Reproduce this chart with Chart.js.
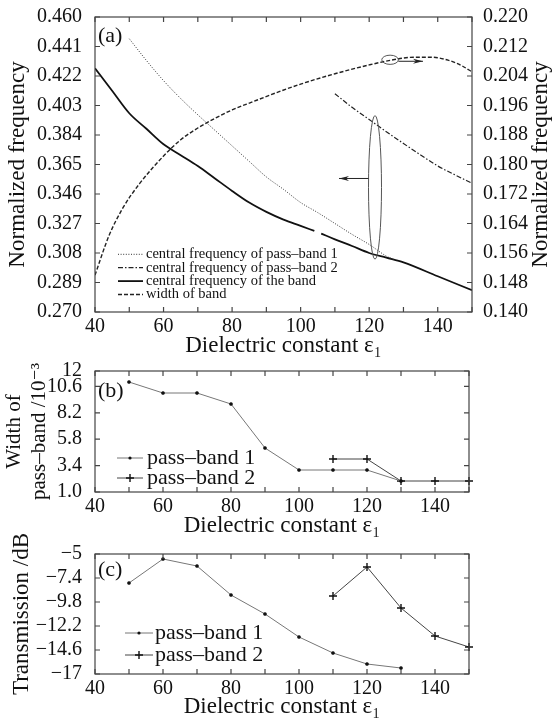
<!DOCTYPE html>
<html>
<head>
<meta charset="utf-8">
<script src="https://cdn.jsdelivr.net/npm/chart.js@4.4.1/dist/chart.umd.min.js"></script>
<style>
  html, body { margin: 0; padding: 0; background: #fff; }
  #wrap { position: relative; width: 554px; height: 721px; }
  canvas { position: absolute; left: 0; }
</style>
</head>
<body>
<div id="wrap">
  <canvas id="chartA" style="top:0px" width="554" height="360"></canvas>
  <canvas id="chartB" style="top:340px" width="554" height="200"></canvas>
  <canvas id="chartC" style="top:520px" width="554" height="201"></canvas>
</div>
<script>
// ---------- data ----------
const xTickValues = [40, 50, 60, 70, 80, 90, 100, 110, 120, 130, 140, 150];
const xTickLabels = ['40', '', '60', '', '80', '', '100', '', '120', '', '140', ''];

// (a) left axis ticks / right axis ticks
const freqTicks = [0.270, 0.289, 0.308, 0.327, 0.346, 0.365, 0.384, 0.403, 0.422, 0.441, 0.460];
const freqTickLabels = ['0.270', '0.289', '0.308', '0.327', '0.346', '0.365', '0.384', '0.403', '0.422', '0.441', '0.460'];
const freq2Ticks = [0.140, 0.148, 0.156, 0.164, 0.172, 0.180, 0.188, 0.196, 0.204, 0.212, 0.220];
const freq2TickLabels = ['0.140', '0.148', '0.156', '0.164', '0.172', '0.180', '0.188', '0.196', '0.204', '0.212', '0.220'];

// (a) central frequency of pass-band 1 (left axis)
const pb1FreqX = [50, 55, 60, 65, 70, 75, 80, 85, 90, 95, 100, 105, 110, 115, 120, 125, 127.5];
const pb1Freq = [0.446, 0.432, 0.419, 0.4075, 0.397, 0.387, 0.377, 0.367, 0.357, 0.349, 0.3405, 0.334, 0.327, 0.320, 0.3135, 0.306, 0.3035];

// (a) central frequency of pass-band 2 (right axis)
const pb2FreqX = [110, 115, 120, 125, 130, 135, 140, 145, 150];
const pb2Freq = [0.1992, 0.1955, 0.1922, 0.1889, 0.1857, 0.1826, 0.1796, 0.1772, 0.1749];

// (a) central frequency of the band (left axis), small break near 105
const bandFreqX = [40, 45, 50, 55, 60, 65, 70, 75, 80, 85, 90, 95, 100, 104, 105, 106, 110, 115, 120, 125, 130, 140, 150];
const bandFreq = [0.427, 0.4125, 0.398, 0.388, 0.378, 0.371, 0.364, 0.356, 0.348, 0.3405, 0.3345, 0.3295, 0.3255, 0.3222, null, 0.3205, 0.3168, 0.3125, 0.308, 0.305, 0.302, 0.293, 0.284];

// (a) width of band (right axis)
const bandWidthX = [40, 44, 48, 53, 60, 65, 70, 75, 80, 86, 93, 100, 110, 120, 127, 133, 138, 143, 147, 150];
const bandWidth = [0.150, 0.1605, 0.168, 0.1748, 0.1823, 0.1867, 0.1899, 0.1925, 0.1948, 0.1970, 0.1995, 0.2018, 0.2046, 0.2070, 0.2084, 0.2091, 0.2091, 0.2083, 0.2068, 0.2051];

// (b) width of pass-band /10^-3
const widthTicks = [1, 3.4, 5.8, 8.2, 10.6, 12];
const widthTickLabels = ['1.0', '3.4', '5.8', '8.2', '10.6', '12'];
const widthPb1X = [50, 60, 70, 80, 90, 100, 110, 120, 130];
const widthPb1 = [11, 10, 10, 9, 5, 3, 3, 3, 2];
const widthPb2X = [110, 120, 130, 140, 150];
const widthPb2 = [4, 4, 2, 2, 2];

// (c) transmission /dB
const transTicks = [-17, -14.6, -12.2, -9.8, -7.4, -5];
const transTickLabels = ['\u221217', '\u221214.6', '\u221212.2', '\u22129.8', '\u22127.4', '\u22125'];
const transPb1X = [50, 60, 70, 80, 90, 100, 110, 120, 130];
const transPb1 = [-7.9, -5.5, -6.2, -9.1, -11.0, -13.3, -14.9, -16.0, -16.4];
const transPb2X = [110, 120, 130, 140, 150];
const transPb2 = [-9.2, -6.3, -10.4, -13.2, -14.3];

// ---------- helpers ----------
const SERIF = "'Liberation Serif', 'DejaVu Serif', serif";
const INK = '#111';
const pts = (xs, ys) => xs.map((x, i) => ({ x: x, y: ys[i] }));

function fixedTicks(values) {
    return s => { s.ticks = values.map(v => ({ value: v })); };
}

function xScale(titleSize, h) {
    return {
        type: 'linear', min: 40, max: 150,
        afterBuildTicks: fixedTicks(xTickValues),
        afterFit: s => { s.height = h; },
        grid: { display: false },
        border: { display: false },
        ticks: {
            callback: (v, i) => xTickLabels[i],
            autoSkip: false, maxRotation: 0, padding: -5,
            color: INK, font: { family: SERIF, size: 20 }
        },
        title: {
            display: true, text: 'Dielectric constant \u03b5\u2081', color: INK,
            font: { family: SERIF, size: titleSize }, padding: { top: 0, bottom: 0 }
        }
    };
}

function yScale(min, max, values, labels, pos, width, pad, title) {
    const s = {
        type: 'linear', position: pos, min: min, max: max,
        afterBuildTicks: fixedTicks(values),
        afterFit: sc => { sc.width = width; },
        grid: { display: false },
        border: { display: false },
        ticks: {
            callback: (v, i) => labels[i],
            autoSkip: false, padding: pad,
            color: INK, font: { family: SERIF, size: 20 }
        }
    };
    if (title) s.title = title;
    return s;
}

// frame + inward ticks on all four sides
const frameTicks = {
    id: 'frameTicks',
    afterDraw(chart) {
        const { ctx, chartArea: a, scales } = chart;
        ctx.save();
        ctx.strokeStyle = '#444';
        ctx.lineWidth = 1.2;
        ctx.strokeRect(a.left, a.top, a.right - a.left, a.bottom - a.top);
        ctx.beginPath();
        scales.x.ticks.forEach(t => {
            const px = scales.x.getPixelForValue(t.value);
            ctx.moveTo(px, a.bottom); ctx.lineTo(px, a.bottom - 5);
            ctx.moveTo(px, a.top); ctx.lineTo(px, a.top + 5);
        });
        scales.y.ticks.forEach(t => {
            const py = scales.y.getPixelForValue(t.value);
            ctx.moveTo(a.left, py); ctx.lineTo(a.left + 5, py);
            if (!scales.y2) { ctx.moveTo(a.right, py); ctx.lineTo(a.right - 5, py); }
        });
        if (scales.y2) {
            scales.y2.ticks.forEach(t => {
                const py = scales.y2.getPixelForValue(t.value);
                ctx.moveTo(a.right, py); ctx.lineTo(a.right - 5, py);
            });
        }
        ctx.stroke();
        ctx.restore();
    }
};

function panelLabel(text, dy) {
    return {
        id: 'panelLabel',
        afterDraw(chart) {
            const { ctx, chartArea: a } = chart;
            ctx.save();
            ctx.fillStyle = INK;
            ctx.font = '22px ' + SERIF;
            ctx.textBaseline = 'middle';
            ctx.fillText(text, a.left + 3, a.top + dy);
            ctx.restore();
        }
    };
}

function arrow(ctx, x1, y1, x2, y2) {
    const ang = Math.atan2(y2 - y1, x2 - x1);
    ctx.beginPath();
    ctx.moveTo(x1, y1); ctx.lineTo(x2, y2);
    ctx.stroke();
    ctx.beginPath();
    ctx.moveTo(x2, y2);
    ctx.lineTo(x2 - 10 * Math.cos(ang) + 2.5 * Math.sin(ang), y2 - 10 * Math.sin(ang) - 2.5 * Math.cos(ang));
    ctx.lineTo(x2 - 7 * Math.cos(ang), y2 - 7 * Math.sin(ang));
    ctx.lineTo(x2 - 10 * Math.cos(ang) - 2.5 * Math.sin(ang), y2 - 10 * Math.sin(ang) + 2.5 * Math.cos(ang));
    ctx.closePath();
    ctx.fill();
}

// ---------- (a) ----------
const lineLegendA = {
    id: 'lineLegendA',
    afterDraw(chart) {
        const { ctx } = chart;
        ctx.save();
        ctx.font = '14.5px ' + SERIF;
        ctx.textBaseline = 'middle';
        chart.data.datasets.forEach((d, i) => {
            const yy = 254.3 + i * 13.4;
            ctx.strokeStyle = d.borderColor;
            ctx.lineWidth = d.borderWidth;
            ctx.setLineDash(d.borderDash || []);
            ctx.beginPath(); ctx.moveTo(118, yy); ctx.lineTo(143, yy); ctx.stroke();
            ctx.setLineDash([]);
            ctx.fillStyle = INK;
            ctx.fillText(d.label, 146, yy);
        });
        ctx.restore();
    }
};

const notesA = {
    id: 'notesA',
    afterDraw(chart) {
        const { ctx, scales: { x, y, y2 } } = chart;
        ctx.save();
        ctx.strokeStyle = '#555';
        ctx.fillStyle = '#222';
        ctx.lineWidth = 1;
        // ellipse around the left-axis curves, arrow to the left
        const cx = x.getPixelForValue(121.7);
        const top = y.getPixelForValue(0.3965), bot = y.getPixelForValue(0.304);
        ctx.beginPath();
        ctx.ellipse(cx, (top + bot) / 2, 6.5, (bot - top) / 2, 0, 0, Math.PI * 2);
        ctx.stroke();
        ctx.strokeStyle = '#222';
        const ay = y.getPixelForValue(0.356);
        arrow(ctx, cx - 6.5, ay, x.getPixelForValue(111.2), ay);
        // small ellipse on the width curve, arrow to the right
        ctx.strokeStyle = '#555';
        const sx = x.getPixelForValue(126.1), sy = y2.getPixelForValue(0.2084);
        ctx.beginPath();
        ctx.ellipse(sx, sy, 8.3, 4.6, 0, 0, Math.PI * 2);
        ctx.stroke();
        ctx.strokeStyle = '#222';
        arrow(ctx, sx + 8.3, sy + 1.5, x.getPixelForValue(135.7), sy + 1.5);
        // right axis title, reading bottom to top like the left one
        ctx.fillStyle = INK;
        ctx.font = '23px ' + SERIF;
        ctx.textAlign = 'center';
        ctx.textBaseline = 'middle';
        ctx.translate(541, (chart.chartArea.top + chart.chartArea.bottom) / 2);
        ctx.rotate(-Math.PI / 2);
        ctx.fillText('Normalized frequency', 0, 0);
        ctx.restore();
    }
};

new Chart(document.getElementById('chartA'), {
    type: 'line',
    data: {
        datasets: [
            { label: 'central frequency of pass\u2013band 1', data: pts(pb1FreqX, pb1Freq), yAxisID: 'y',
              borderColor: '#333', borderWidth: 1, borderDash: [1, 1.6] },
            { label: 'central frequency of pass\u2013band 2', data: pts(pb2FreqX, pb2Freq), yAxisID: 'y2',
              borderColor: '#222', borderWidth: 1.2, borderDash: [5, 2, 1.5, 2] },
            { label: 'central frequency of the band', data: pts(bandFreqX, bandFreq), yAxisID: 'y',
              borderColor: '#111', borderWidth: 1.8 },
            { label: 'width of band', data: pts(bandWidthX, bandWidth), yAxisID: 'y2',
              borderColor: '#222', borderWidth: 1.4, borderDash: [4, 2] }
        ]
    },
    options: {
        responsive: false,
        animation: false,
        layout: { padding: { top: 16, left: 0, right: 0, bottom: 0 } },
        elements: { point: { radius: 0 }, line: { cubicInterpolationMode: 'monotone', fill: false } },
        plugins: { legend: { display: false }, tooltip: { enabled: false } },
        scales: {
            x: xScale(23, 48),
            y: yScale(0.270, 0.460, freqTicks, freqTickLabels, 'left', 95, 5, {
                display: true, text: 'Normalized frequency', color: INK,
                font: { family: SERIF, size: 23 }, padding: { top: 4, bottom: 0 }
            }),
            y2: yScale(0.140, 0.220, freq2Ticks, freq2TickLabels, 'right', 82, 3, null)
        }
    },
    plugins: [frameTicks, lineLegendA, notesA, panelLabel('(a)', 19.5)]
});

// ---------- (b) and (c) ----------
function markerLegend(x1, x2, xText, rows) {
    return {
        id: 'markerLegend',
        afterDraw(chart) {
            const { ctx } = chart;
            ctx.save();
            ctx.font = '22px ' + SERIF;
            ctx.textBaseline = 'middle';
            chart.data.datasets.forEach((d, i) => {
                const yy = rows[i];
                const mx = (x1 + x2) / 2;
                ctx.strokeStyle = d.borderColor;
                ctx.lineWidth = d.borderWidth;
                ctx.beginPath(); ctx.moveTo(x1, yy); ctx.lineTo(x2, yy); ctx.stroke();
                ctx.strokeStyle = d.pointBorderColor;
                ctx.fillStyle = d.pointBackgroundColor;
                ctx.lineWidth = d.pointBorderWidth;
                ctx.beginPath();
                if (d.pointStyle === 'cross') {
                    ctx.moveTo(mx - d.pointRadius, yy); ctx.lineTo(mx + d.pointRadius, yy);
                    ctx.moveTo(mx, yy - d.pointRadius); ctx.lineTo(mx, yy + d.pointRadius);
                    ctx.stroke();
                } else {
                    ctx.arc(mx, yy, d.pointRadius, 0, Math.PI * 2);
                    ctx.fill();
                }
                ctx.fillStyle = INK;
                ctx.fillText(d.label, xText, yy);
            });
            ctx.restore();
        }
    };
}

function pbDatasets(x1, y1, x2, y2) {
    return [
        { label: 'pass\u2013band 1', data: pts(x1, y1), borderColor: '#777', borderWidth: 1,
          pointStyle: 'circle', pointRadius: 1.6, pointBorderWidth: 0.5,
          pointBackgroundColor: '#111', pointBorderColor: '#111', clip: 8 },
        { label: 'pass\u2013band 2', data: pts(x2, y2), borderColor: '#444', borderWidth: 1,
          pointStyle: 'cross', pointRadius: 4, pointBorderWidth: 1.4,
          pointBackgroundColor: '#111', pointBorderColor: '#111', clip: 8 }
    ];
}

new Chart(document.getElementById('chartB'), {
    type: 'line',
    data: { datasets: pbDatasets(widthPb1X, widthPb1, widthPb2X, widthPb2) },
    options: {
        responsive: false,
        animation: false,
        layout: { padding: { top: 31, left: 0, right: 85, bottom: 0 } },
        elements: { line: { tension: 0, fill: false } },
        plugins: { legend: { display: false }, tooltip: { enabled: false } },
        scales: {
            x: xScale(23, 48),
            y: yScale(1, 12, widthTicks, widthTickLabels, 'left', 95, 5, {
                display: true, text: ['Width of', 'pass\u2013band /10\u207b\u00b3'], color: INK,
                font: { family: SERIF, size: 21, lineHeight: 1.2 }, padding: { top: 2, bottom: 0 }
            })
        }
    },
    plugins: [frameTicks, markerLegend(117, 143, 147, [118, 138]), panelLabel('(b)', 20.5)]
});

new Chart(document.getElementById('chartC'), {
    type: 'line',
    data: { datasets: pbDatasets(transPb1X, transPb1, transPb2X, transPb2) },
    options: {
        responsive: false,
        animation: false,
        layout: { padding: { top: 34, left: 0, right: 85, bottom: 0 } },
        elements: { line: { tension: 0, fill: false } },
        plugins: { legend: { display: false }, tooltip: { enabled: false } },
        scales: {
            x: xScale(23, 47),
            y: yScale(-17, -5, transTicks, transTickLabels, 'left', 95, 5, {
                display: true, text: 'Transmission /dB', color: INK,
                font: { family: SERIF, size: 23 }, padding: { top: 8, bottom: 0 }
            })
        }
    },
    plugins: [frameTicks, markerLegend(125, 153, 155, [113, 135]), panelLabel('(c)', 16)]
});
</script>
</body>
</html>
